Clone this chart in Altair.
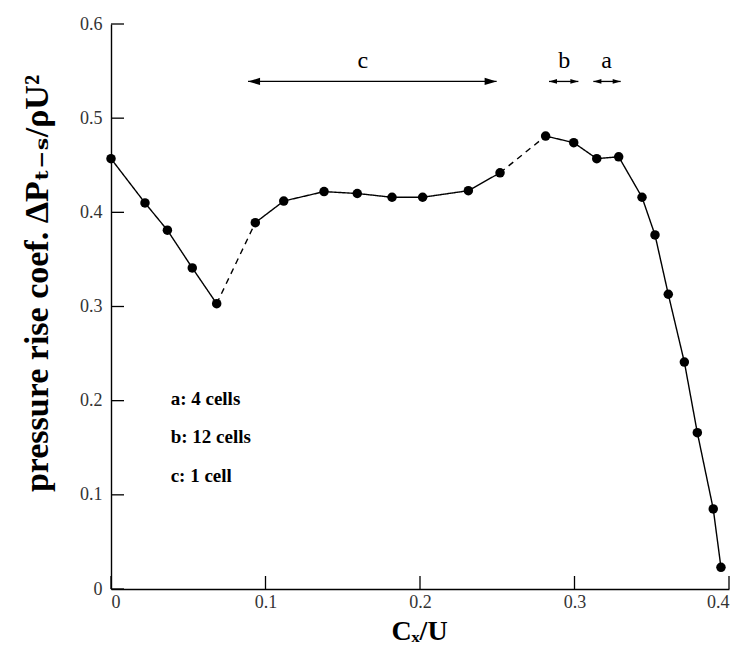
import altair as alt
import pandas as pd

# ---- data ----
cx = [0.0, 0.022, 0.0365, 0.0526, 0.0684, 0.0934, 0.1118, 0.1379, 0.1594, 0.1819,
      0.2017, 0.2313, 0.2518, 0.2813, 0.2995, 0.3144, 0.3286, 0.3437, 0.3521, 0.3607,
      0.3711, 0.3795, 0.3898, 0.3948]
dp = [0.457, 0.410, 0.381, 0.341, 0.303, 0.389, 0.412, 0.422, 0.420, 0.416,
      0.416, 0.423, 0.442, 0.481, 0.474, 0.457, 0.459, 0.416, 0.376, 0.313,
      0.241, 0.166, 0.085, 0.023]
# line segments: (first index, last index, style)
seg_first = [0, 4, 5, 12, 13]
seg_last = [4, 5, 12, 13, 23]
seg_style = ["solid", "dashed", "solid", "dashed", "solid"]

arrow_labels = ["c", "b", "a"]
arrow_start = [0.0887, 0.2835, 0.3122]
arrow_end = [0.2496, 0.3025, 0.3299]
arrow_label_x = [0.163, 0.2934, 0.3208]
arrow_y = 0.539
arrow_label_y = 0.553
arrow_head = [144, 64, 64]

legend_lines = ["a: 4 cells", "b: 12 cells", "c: 1 cell"]
legend_y = [0.202, 0.161, 0.120]
legend_x = 0.0386

x_ticks = [0.0, 0.1, 0.2, 0.3, 0.4]
y_ticks = [0.0, 0.1, 0.2, 0.3, 0.4, 0.5, 0.6]

W, H = 618, 565
SERIF = "Liberation Serif, DejaVu Serif, serif"

# ---- tables ----
pts = pd.DataFrame({"x": cx, "y": dp})
rows = []
for k, (a, b, s) in enumerate(zip(seg_first, seg_last, seg_style)):
    for i in range(a, b + 1):
        rows.append({"x": cx[i], "y": dp[i], "seg": k, "style": s})
segs = pd.DataFrame(rows)

arrows = pd.DataFrame({"x": arrow_start, "x2": arrow_end,
                       "y": [arrow_y] * 3, "lab": arrow_labels,
                       "lx": arrow_label_x, "ly": [arrow_label_y] * 3})
heads = pd.DataFrame({
    "x": arrow_start + arrow_end,
    "y": [arrow_y] * 6,
    "shape": ["M0,0L2,-0.6L2,0.6Z"] * 3 + ["M0,0L-2,-0.6L-2,0.6Z"] * 3,
    "size": arrow_head + arrow_head,
})
legend = pd.DataFrame({"t": legend_lines, "y": legend_y, "x": [legend_x] * 3})
xt = pd.DataFrame({"v": x_ticks})
yt = pd.DataFrame({"v": y_ticks})

xs = alt.Scale(domain=[0, 0.4], nice=False, zero=False)
ys = alt.Scale(domain=[0, 0.6], nice=False, zero=False)

lab_expr = "datum.value == 0 ? '0' : format(datum.value, '.1f')"

x_axis = alt.Axis(values=x_ticks, labelExpr=lab_expr, ticks=False, tickSize=0, grid=False,
                  labelFont=SERIF, labelFontSize=18, labelColor="#333", labelPadding=4,
                  domainColor="black", domainWidth=1.4,
                  title="Cₓ/U", titleFont=SERIF, titleFontSize=28, titleFontWeight="bold",
                  titleColor="black", titleBaseline="alphabetic", titleY=50, titleX=308)
y_axis = alt.Axis(values=y_ticks, labelExpr=lab_expr, ticks=False, tickSize=0, grid=False,
                  labelFont=SERIF, labelFontSize=18, labelColor="#333", labelPadding=9,
                  domainColor="black", domainWidth=1.4,
                  title="pressure rise coef.  ΔPₜ₋ₛ/ρU²", titleFont=SERIF, titleFontSize=34,
                  titleFontWeight="bold", titleColor="black", titleAngle=270,
                  titleBaseline="alphabetic", titleAlign="center", titleX=-64, titleY=259)

base_axes = alt.Chart(pts).mark_point(opacity=0).encode(
    x=alt.X("x:Q", scale=xs, axis=x_axis),
    y=alt.Y("y:Q", scale=ys, axis=y_axis),
)

lines = alt.Chart(segs).mark_line(color="black", strokeWidth=1.4).encode(
    x=alt.X("x:Q", scale=xs),
    y=alt.Y("y:Q", scale=ys),
    detail="seg:N",
    strokeDash=alt.StrokeDash("style:N", scale=alt.Scale(domain=["solid", "dashed"],
                                                         range=[[1, 0], [6, 5]]), legend=None),
)

dots = alt.Chart(pts).mark_point(filled=True, color="black", opacity=1, size=90, shape="circle").encode(
    x=alt.X("x:Q", scale=xs),
    y=alt.Y("y:Q", scale=ys),
)

yticks = alt.Chart(yt).mark_rule(color="black", strokeWidth=1.3).encode(
    y=alt.Y("v:Q", scale=ys), x=alt.value(0), x2=alt.value(13))
xticks = alt.Chart(xt).mark_rule(color="black", strokeWidth=1.3).encode(
    x=alt.X("v:Q", scale=xs), y=alt.value(H), y2=alt.value(H - 13))

arrow_lines = alt.Chart(arrows).mark_rule(color="black", strokeWidth=1.3).encode(
    x=alt.X("x:Q", scale=xs), x2="x2:Q", y=alt.Y("y:Q", scale=ys))
arrow_heads = alt.Chart(heads).mark_point(filled=True, color="black", opacity=1).encode(
    x=alt.X("x:Q", scale=xs), y=alt.Y("y:Q", scale=ys),
    shape=alt.Shape("shape:N", scale=None), size=alt.Size("size:Q", scale=None))
arrow_text = alt.Chart(arrows).mark_text(font=SERIF, fontSize=24, color="black",
                                         baseline="alphabetic", align="center").encode(
    x=alt.X("lx:Q", scale=xs), y=alt.Y("ly:Q", scale=ys), text="lab:N")

legend_text = alt.Chart(legend).mark_text(font=SERIF, fontSize=19, fontWeight="bold",
                                          color="black", align="left", baseline="middle").encode(
    x=alt.X("x:Q", scale=xs), y=alt.Y("y:Q", scale=ys), text="t:N")

chart = alt.layer(
    base_axes, yticks, xticks, lines, dots, arrow_lines, arrow_heads, arrow_text, legend_text
).properties(
    width=W, height=H,
    autosize=alt.AutoSizeParams(type="none"),
    padding={"left": 103, "top": 16, "right": 7, "bottom": 56},
    background="white",
).configure_view(stroke=None)

chart.save("out.html", embed_options={"renderer": "svg", "actions": False})
